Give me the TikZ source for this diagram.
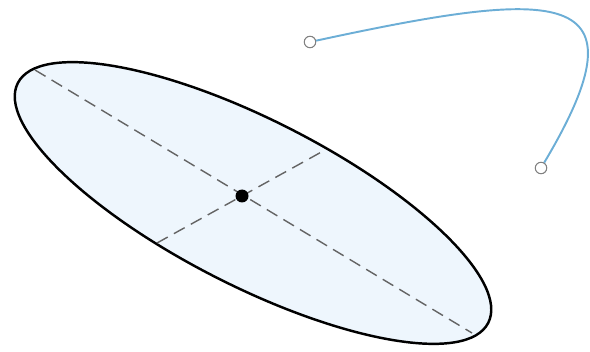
\documentclass[tikz,border=0pt]{standalone}
\usepackage{tikz}
\usetikzlibrary{positioning,calc}
\definecolor{fillblue}{RGB}{238,246,253}
\definecolor{curveblue}{RGB}{108,174,214}
\definecolor{dashgray}{RGB}{100,100,100}

\begin{document}
\begin{tikzpicture}[
  x=0.02cm, y=0.02cm,
  hull/.style={draw=black, line width=1.4pt, fill=fillblue},
  axis/.style={draw=dashgray, line width=0.8pt, dash pattern=on 7pt off 4pt},
  centre/.style={circle, fill=black, inner sep=0pt, minimum size=0.26cm},
  handle/.style={circle, draw=gray, fill=white, line width=0.6pt,
                 inner sep=0pt, minimum size=0.23cm},
  spline/.style={draw=curveblue, line width=1.1pt},
]
\useasboundingbox (0,0) rectangle (590,351);

% ellipse and its axes
\draw[hull, rotate around={-27:(253,148)}] (253,148) ellipse [x radius=264, y radius=83];
\coordinate (m1) at (35,281);
\coordinate (m2) at (472,18);
\coordinate (n1) at (157,108);
\coordinate (n2) at (325,201);
\draw[axis] (m1) -- (m2);
\draw[axis] (n1) -- (n2);
\node[centre] (ctr) at (242,155) {};

% curve with its two end handles
\node[handle] (h1) at (310,309) {};
\node[handle] (h2) at (541,183) {};
\draw[spline] (h1) .. controls (560,363) and (650,366) .. (h2);
\end{tikzpicture}
\end{document}
